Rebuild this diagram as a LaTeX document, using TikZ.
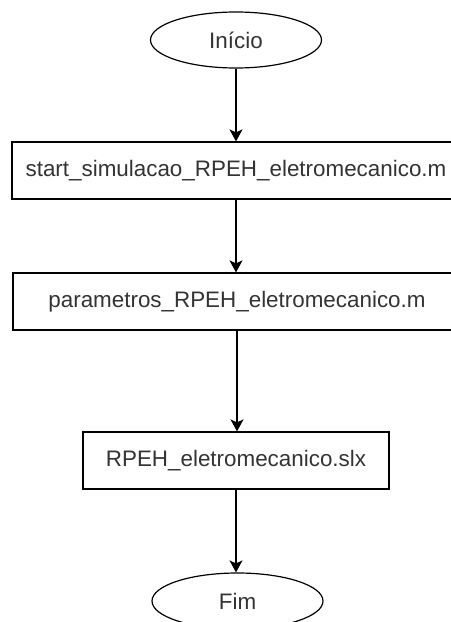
\documentclass[tikz,border=0pt]{standalone}
\usepackage{fontspec}
\setmainfont{Liberation Sans}
\usetikzlibrary{shapes.geometric,arrows.meta}
\definecolor{txt}{HTML}{333333}
\tikzset{
  base/.style={draw=black, line width=1.2bp, text=txt, inner sep=0pt,
    font=\fontsize{22.4bp}{26bp}\selectfont},
  term/.style={base, ellipse, minimum width=171bp, minimum height=56bp},
  proc/.style={base, rectangle, minimum height=57bp},
  flow/.style={draw=black, line width=1.2bp,
    -{Stealth[length=12bp, width=13bp, inset=3bp]}}
}
\begin{document}
\begin{tikzpicture}[x=1bp, y=-1bp]
  \useasboundingbox[fill=white] (0,0) rectangle (451,622);
  \node[term] (ini) at (236,40) {Início};
  \node[proc, minimum width=448bp] (start) at (236,170.5) {start\_simulacao\_RPEH\_eletromecanico.m};
  \node[proc, minimum width=448bp] (param) at (237,301.5) {parametros\_RPEH\_eletromecanico.m};
  \node[proc, minimum width=306bp] (slx) at (236,460.5) {RPEH\_eletromecanico.slx};
  \node[term] (fim) at (237.5,601) {Fim};
  \draw[flow] (ini.south) -- (ini.south |- start.north);
  \draw[flow] (start.south) -- (start.south |- param.north);
  \draw[flow] (param.south) -- (param.south |- slx.north);
  \draw[flow] (slx.south) -- (slx.south |- fim.north);
\end{tikzpicture}
\end{document}
